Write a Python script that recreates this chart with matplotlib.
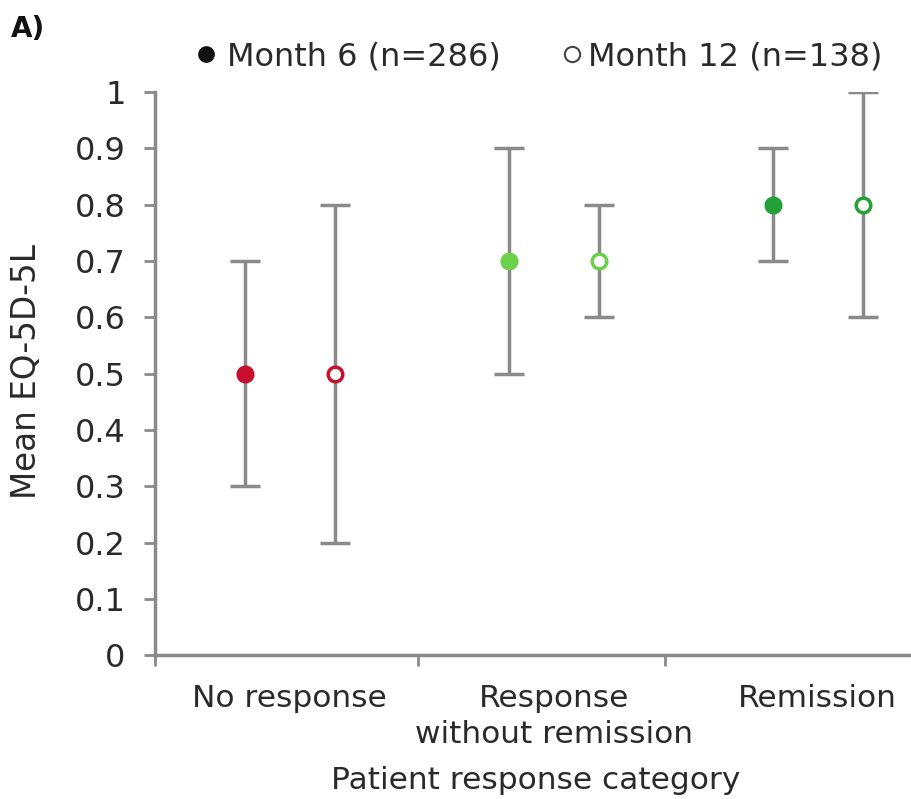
import matplotlib
matplotlib.use("Agg")
import matplotlib.pyplot as plt
from matplotlib.lines import Line2D
import numpy as np

categories = ["No response", "Response\nwithout remission", "Remission"]
m6_mean = [0.5, 0.7, 0.8]
m6_low = [0.3, 0.5, 0.7]
m6_high = [0.7, 0.9, 0.9]
m12_mean = [0.5, 0.7, 0.8]
m12_low = [0.2, 0.6, 0.6]
m12_high = [0.8, 0.8, 1.0]
colors = ["#c8102e", "#6cd04a", "#23a136"]
yticks = [0, 0.1, 0.2, 0.3, 0.4, 0.5, 0.6, 0.7, 0.8, 0.9, 1]
ytick_labels = ["0", "0.1", "0.2", "0.3", "0.4", "0.5", "0.6", "0.7", "0.8", "0.9", "1"]
legend_labels = ["Month 6 (n=286)", "Month 12 (n=138)"]

TXT = "#2a2a2a"
GRAY = "#8a8a8a"
FS = 22.5

fig = plt.figure(figsize=(9.11, 7.99), dpi=100)
ax = fig.add_axes([0.170, 0.180, 0.830, 0.705])

x = np.arange(len(categories))
off = 0.17
for i in range(len(categories)):
    for xx, mean, lo, hi, filled in [
        (x[i] - off, m6_mean[i], m6_low[i], m6_high[i], True),
        (x[i] + off, m12_mean[i], m12_low[i], m12_high[i], False),
    ]:
        ax.errorbar([xx], [mean], yerr=[[mean - lo], [hi - mean]], fmt="none",
                    ecolor=GRAY, elinewidth=2.5, capsize=11, capthick=2.5, zorder=2)
        ax.plot([xx], [mean], "o", ms=10.5, mew=2.5,
                mfc=colors[i] if filled else "white", mec=colors[i], zorder=3)

ax.set_xlim(-0.511, 2.353)
ax.set_ylim(0, 1)
ax.set_yticks(yticks)
ax.set_yticklabels(ytick_labels, fontsize=23, color=TXT)
ax.set_xticks([-0.511, 0.485, 1.42])
ax.set_xticklabels([])
ax.set_xticks(x, minor=True)
ax.set_xticklabels(categories, minor=True, fontsize=FS, color=TXT, linespacing=1.3)
ax.tick_params(axis="x", which="minor", length=0, pad=21)
ax.tick_params(axis="x", which="major", length=8, width=2, color=GRAY)
ax.tick_params(axis="y", length=8, width=2, color=GRAY, pad=13)
for s in ["top", "right"]:
    ax.spines[s].set_visible(False)
for s in ["left", "bottom"]:
    ax.spines[s].set_color(GRAY)
    ax.spines[s].set_linewidth(2.5)

ax.set_ylabel("Mean EQ-5D-5L", fontsize=23.5, color=TXT)
ax.yaxis.set_label_coords(-0.148, 0.503)
ax.set_xlabel("Patient response category", fontsize=FS, color=TXT)
ax.xaxis.set_label_coords(0.503, -0.196)

fig.text(0.012, 0.964, "A)", fontsize=20, fontweight="bold", color="#111111", va="center")

# legend (two entries placed separately to match spacing)
h6 = Line2D([], [], ls="none", marker="o", ms=11, mfc="#111111", mec="#111111")
h12 = Line2D([], [], ls="none", marker="o", ms=11, mfc="white", mec="#444444", mew=1.5)
for h, lab, xa, pad in [(h6, legend_labels[0], 0.212, 0.25), (h12, legend_labels[1], 0.614, 0.1)]:
    lg = fig.legend([h], [lab], loc="center left", bbox_to_anchor=(xa, 0.929),
                    frameon=False, fontsize=23, handletextpad=pad, handlelength=0.8,
                    borderaxespad=0, borderpad=0)
    for t in lg.get_texts():
        t.set_color(TXT)

fig.savefig("out.png", dpi=100)
